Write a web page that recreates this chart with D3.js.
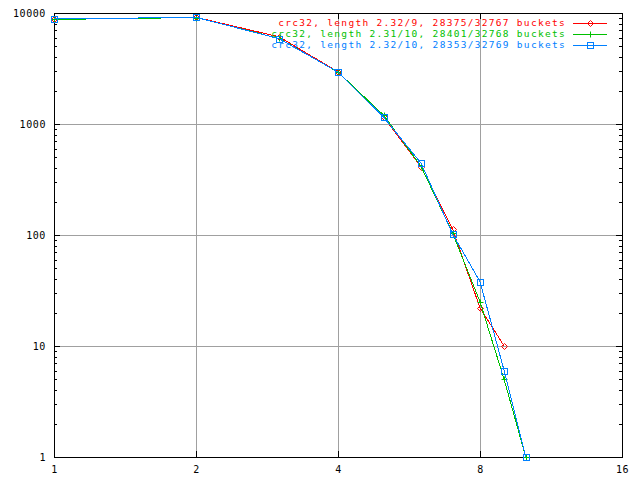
<!DOCTYPE html>
<html><head><meta charset="utf-8">
<script src="https://cdn.jsdelivr.net/npm/d3@7"></script>
<style>body{margin:0;background:#fff}svg{display:block}text{font-family:"DejaVu Sans Mono","Liberation Mono",monospace}</style>
</head><body><svg id="c" width="640" height="480"></svg>
<script>
const xs = [1, 2, 3, 4, 5, 6, 7, 8, 9, 10];
const redVals = [8800, 9150, 6100, 2950, 1150, 410, 113, 22, 10];
const greenVals = [8750, 9100, 5900, 2930, 1200, 415, 104, 25, 5, 1];
const blueVals = [8830, 9140, 5870, 2940, 1150, 443, 102, 38, 6, 1];
const seriesNames = ["crc32, length 2.32/9, 28375/32767 buckets", "crc32, length 2.31/10, 28401/32768 buckets", "crc32, length 2.32/10, 28353/32769 buckets"];
const seriesColors = ["#ff0000", "#00c000", "#0080ff"];
const seriesMarks = ["diamond", "plus", "square"];
const xTicks = [1, 2, 4, 8, 16];
const yTicks = [1, 10, 100, 1000, 10000];

const svg = d3.select("#c");
const L = 54, R = 622, T = 13, B = 457;
const x = d3.scaleLog().base(2).domain([1, 16]).range([L, R]);
const y = d3.scaleLog().domain([1, 10000]).range([B, T]);

const g = svg.append("g").attr("shape-rendering", "crispEdges");
xTicks.slice(1, -1).forEach(v => g.append("line").attr("x1", x(v)).attr("x2", x(v)).attr("y1", T).attr("y2", B).attr("stroke", "#a0a0a0"));
yTicks.slice(1, -1).forEach(v => g.append("line").attr("x1", L).attr("x2", R).attr("y1", y(v)).attr("y2", y(v)).attr("stroke", "#a0a0a0"));

const minor = [];
for (let d = 1; d < 10000; d *= 10) for (let k = 2; k <= 9; k++) minor.push(d * k);
const axL = d3.axisLeft(y).tickValues(yTicks).tickSize(-6).tickFormat(d3.format("d")).tickPadding(8);
const axLm = d3.axisLeft(y).tickValues(minor).tickSize(-3).tickFormat("");
const axR = d3.axisRight(y).tickValues(yTicks).tickSize(-6).tickFormat("");
const axRm = d3.axisRight(y).tickValues(minor).tickSize(-3).tickFormat("");
const axB = d3.axisBottom(x).tickValues(xTicks).tickSize(-6).tickFormat(d3.format("d")).tickPadding(9);
const axT = d3.axisTop(x).tickValues(xTicks).tickSize(-6).tickFormat("");
[[axL, L], [axLm, L], [axR, R], [axRm, R]].forEach(([a, tx]) => g.append("g").attr("transform", `translate(${tx},0)`).call(a));
g.append("g").attr("transform", `translate(0,${B})`).call(axB);
g.append("g").attr("transform", `translate(0,${T})`).call(axT);
g.selectAll(".domain").remove();
g.selectAll(".tick line").attr("stroke", "#000");
g.selectAll(".tick text").attr("fill", "#000").style("font-size", "10px").style("letter-spacing", "0.6px").style("font-family", '"DejaVu Sans Mono","Liberation Mono",monospace');
g.append("rect").attr("x", L).attr("y", T).attr("width", R - L).attr("height", B - T).attr("fill", "none").attr("stroke", "#000");

function marker(sel, type, cx, cy, color) {
  const s = 3;
  if (type === "square") sel.append("rect").attr("x", cx - s).attr("y", cy - s).attr("width", 2 * s).attr("height", 2 * s).attr("fill", "none").attr("stroke", color);
  else if (type === "plus") sel.append("path").attr("d", `M${cx - s},${cy}H${cx + s}M${cx},${cy - s}V${cy + s}`).attr("stroke", color).attr("fill", "none");
  else sel.append("path").attr("d", `M${cx},${cy - s}L${cx + s},${cy}L${cx},${cy + s}L${cx - s},${cy}Z`).attr("stroke", color).attr("fill", "none");
}

const allVals = [redVals, greenVals, blueVals];
const line = d3.line().x(d => x(d[0])).y(d => y(d[1]));
const pg = svg.append("g");
allVals.forEach((vals, i) => {
  const pts = vals.map((v, j) => [xs[j], v]);
  pg.append("path").attr("d", line(pts)).attr("fill", "none").attr("stroke", seriesColors[i]).attr("stroke-width", 1).attr("shape-rendering", "crispEdges");
  pts.forEach(p => marker(pg, seriesMarks[i], Math.round(x(p[0])) + 0.5, Math.round(y(p[1])) + 0.5, seriesColors[i]));
});

const lg = svg.append("g");
seriesNames.forEach((name, i) => {
  const yy = 23 + i * 11;
  lg.append("text").attr("x", 566).attr("y", yy).attr("dy", "0.35em").attr("text-anchor", "end")
    .attr("fill", seriesColors[i]).style("font-size", "9.5px").style("letter-spacing", "1.3px").text(name);
  lg.append("line").attr("x1", 573).attr("x2", 607).attr("y1", yy + 0.5).attr("y2", yy + 0.5).attr("stroke", seriesColors[i]).attr("shape-rendering", "crispEdges");
  marker(lg, seriesMarks[i], 590.5, yy + 0.5, seriesColors[i]);
});
</script></body></html>
